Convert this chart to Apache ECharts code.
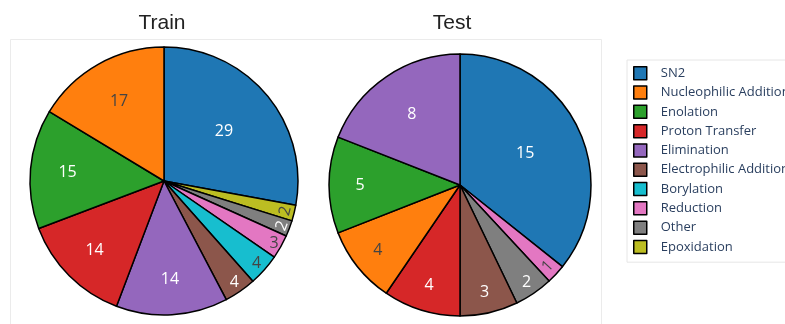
<!DOCTYPE html>
<html>
<head>
<meta charset="utf-8">
<script src="https://cdn.jsdelivr.net/npm/echarts@6/dist/echarts.min.js"></script>
<style>
  html, body { margin: 0; padding: 0; background: #fff; }
  #chart { width: 785px; height: 324px; }
</style>
</head>
<body>
<div id="chart"></div>
<script>
// Reaction classes, in legend order
const categories = ['SN2', 'Nucleophilic Addition', 'Enolation', 'Proton Transfer', 'Elimination',
  'Electrophilic Addition', 'Borylation', 'Reduction', 'Other', 'Epoxidation'];
// Counts per class for each split
const trainCounts = [29, 17, 15, 14, 14, 4, 4, 3, 2, 2];
const testCounts  = [15, 4, 5, 4, 8, 3, 0, 1, 2, 0];
const panelTitles = ['Train', 'Test'];

// Styling
const palette = ['#1f77b4', '#ff7f0e', '#2ca02c', '#d62728', '#9467bd',
  '#8c564b', '#17becf', '#e377c2', '#7f7f7f', '#bcbd22'];
const darkLabelClasses = new Set(['Nucleophilic Addition', 'Borylation', 'Reduction', 'Epoxidation']);

// Inner radius (fraction of R) of the invisible ring that carries each slice's label;
// the label sits midway across that ring.
const labelRing = {
  Train: { 'SN2': 0.12, 'Nucleophilic Addition': 0.32, 'Enolation': 0.4, 'Proton Transfer': 0.42,
    'Elimination': 0.42, 'Electrophilic Addition': 0.8, 'Borylation': 0.8, 'Reduction': 0.84,
    'Other': 0.84, 'Epoxidation': 0.82 },
  Test: { 'SN2': 0.06, 'Elimination': 0.26, 'Enolation': 0.48, 'Nucleophilic Addition': 0.56,
    'Proton Transfer': 0.56, 'Electrophilic Addition': 0.64, 'Other': 0.76, 'Reduction': 0.78 }
};
const tangentialLabels = {
  Train: new Set(['Other', 'Epoxidation']),
  Test: new Set(['Reduction'])
};

const pieLayout = {
  Train: { center: [164, 181], R: 134, titleX: 157 },
  Test:  { center: [460, 185], R: 131, titleX: 447 }
};

// Largest slice first (clockwise from 12 o'clock), remaining slices follow in ascending size
function sliceOrder(counts) {
  const idx = categories.map((_, i) => i).filter(i => counts[i] > 0);
  idx.sort((a, b) => counts[b] - counts[a] || a - b);
  return [idx[0], ...idx.slice(1).reverse()];
}

function buildPie(title, counts) {
  const { center, R } = pieLayout[title];
  const order = sliceOrder(counts);
  const base = {
    type: 'pie', name: title, center, radius: [0, R], startAngle: 90, clockwise: true,
    data: order.map(i => ({ name: categories[i], value: counts[i], itemStyle: { color: palette[i] } })),
    label: { show: false }, labelLine: { show: false },
    itemStyle: { borderColor: '#000', borderWidth: 1.5 },
    emphasis: { disabled: true }
  };
  const rings = [...new Set(order.map(i => labelRing[title][categories[i]]))];
  const labelSeries = rings.map(r0 => ({
    type: 'pie', center, radius: [R * r0, R], startAngle: 90, clockwise: true,
    silent: true, avoidLabelOverlap: false, legendHoverLink: false,
    itemStyle: { color: 'rgba(0,0,0,0)', borderWidth: 0 },
    labelLine: { show: false }, emphasis: { disabled: true },
    data: order.map(i => {
      const n = categories[i];
      return {
        name: n, value: counts[i],
        itemStyle: { color: 'rgba(0,0,0,0)' },
        label: {
          show: labelRing[title][n] === r0,
          position: 'inside', formatter: '{c}',
          color: darkLabelClasses.has(n) ? '#444' : '#fff',
          fontFamily: 'Open Sans', fontSize: 16,
          rotate: tangentialLabels[title].has(n) ? 'tangential' : 0
        }
      };
    })
  }));
  return [base, ...labelSeries];
}

const chart = echarts.init(document.getElementById('chart'), null, { renderer: 'canvas' });
chart.setOption({
  animation: false,
  backgroundColor: '#fff',
  title: panelTitles.map(t => ({
    text: t, left: pieLayout[t].titleX, top: 8, textAlign: 'center',
    textStyle: { fontFamily: 'Liberation Sans', fontSize: 21, fontWeight: 'normal', color: '#222' }
  })),
  graphic: [
    { type: 'rect', z: -10, silent: true,
      shape: { x: 10.5, y: 39.5, width: 591, height: 400 },
      style: { fill: 'none', stroke: '#ebebeb', lineWidth: 1 } }
  ],
  legend: {
    orient: 'vertical', left: 627, top: 60,
    data: categories,
    icon: 'rect', itemWidth: 13, itemHeight: 13, itemGap: 4.8,
    padding: [6, 10, 8, 6],
    borderColor: '#e6e6e6', borderWidth: 1,
    itemStyle: { borderColor: '#000', borderWidth: 1.5 },
    textStyle: { fontFamily: 'Open Sans', fontSize: 13, color: '#2a3f5f', padding: [0, 0, 0, 9] },
    selectedMode: false
  },
  series: [...buildPie('Train', trainCounts), ...buildPie('Test', testCounts)]
});
</script>
</body>
</html>
